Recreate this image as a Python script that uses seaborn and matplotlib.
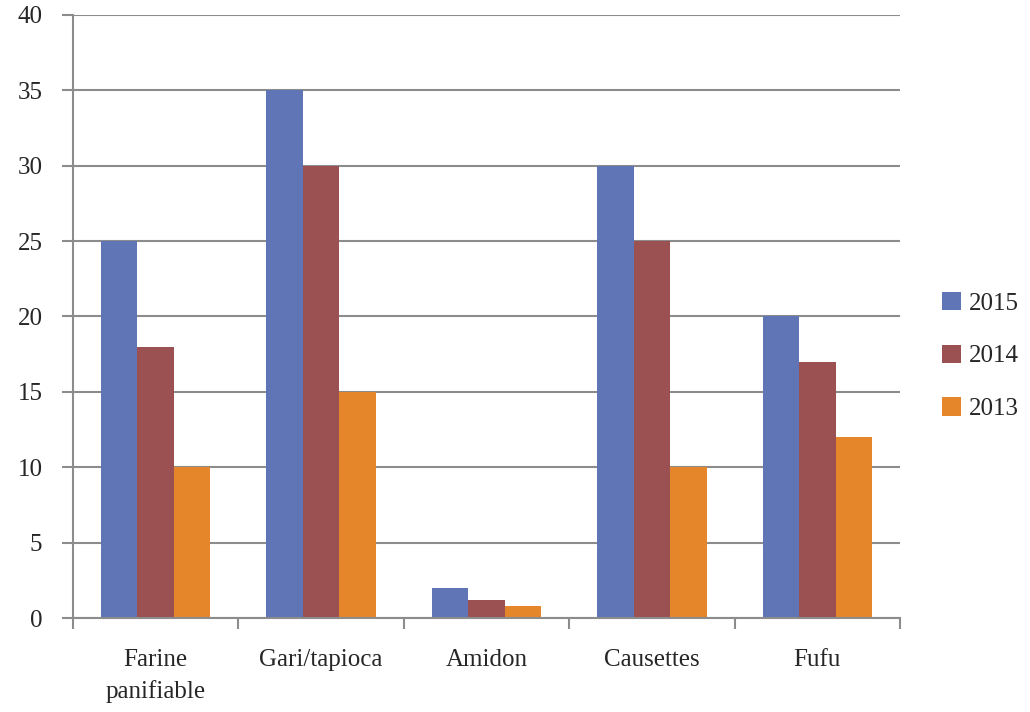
import matplotlib
matplotlib.use("Agg")
import matplotlib.pyplot as plt
import seaborn as sns
import pandas as pd
from matplotlib.patches import Patch

categories = ["Farine\npanifiable", "Gari/tapioca", "Amidon", "Causettes", "Fufu"]
years = ["2015", "2014", "2013"]
values_2015 = [25, 35, 2, 30, 20]
values_2014 = [18, 30, 1.2, 25, 17]
values_2013 = [10, 15, 0.8, 10, 12]
colors = ["#5F75B5", "#9B5151", "#E6862A"]

rows = []
for year, vals in zip(years, [values_2015, values_2014, values_2013]):
    for cat, v in zip(categories, vals):
        rows.append({"Produit": cat, "Année": year, "Valeur": v})
df = pd.DataFrame(rows)

sns.set_style("white")
plt.rcParams["font.family"] = ["Liberation Serif", "DejaVu Serif"]

fig = plt.figure(figsize=(10.3, 7.12), dpi=100)
ax = fig.add_axes([0.0709, 0.132, 0.8029, 0.847])

sns.barplot(data=df, x="Produit", y="Valeur", hue="Année", hue_order=years,
            order=categories, palette=colors, width=0.662, gap=0,
            saturation=1, edgecolor="none", linewidth=0, ax=ax, legend=False)

grid_color = "#8C8C8C"
ax.set_ylim(0, 40)
ax.set_xlim(-0.5, len(categories) - 0.5)
ax.set_yticks(range(0, 41, 5))
ax.yaxis.grid(True, color=grid_color, linewidth=1.5)
ax.set_axisbelow(True)
for side in ["top", "right"]:
    ax.spines[side].set_visible(False)
for side in ["left", "bottom"]:
    ax.spines[side].set_color(grid_color)
    ax.spines[side].set_linewidth(1.5)

# category boundary ticks on x, labels centred in each slot
ax.set_xticks([i - 0.5 for i in range(len(categories) + 1)])
ax.set_xticklabels([])
ax.set_xticks(range(len(categories)), minor=True)
ax.set_xticklabels(categories, minor=True, fontsize=18, linespacing=1.5)
ax.tick_params(axis="x", which="major", direction="out", length=8, width=1.5,
               color=grid_color, bottom=True)
ax.tick_params(axis="x", which="minor", length=0, pad=22)
ax.tick_params(axis="y", direction="out", length=8, width=1.5, color=grid_color,
               labelsize=18, pad=14, left=True)
for lbl in ax.get_xticklabels(minor=True):
    lbl.set_verticalalignment("top")

ax.set_xlabel("")
ax.set_ylabel("")

handles = [Patch(facecolor=c, edgecolor="none") for c in colors]
fig.legend(handles, years, loc="center left", bbox_to_anchor=(0.893, 0.5),
           frameon=False, fontsize=18, handlelength=0.75, handleheight=0.75,
           handletextpad=0.3, labelspacing=1.2)

fig.savefig("out.png", dpi=100)
